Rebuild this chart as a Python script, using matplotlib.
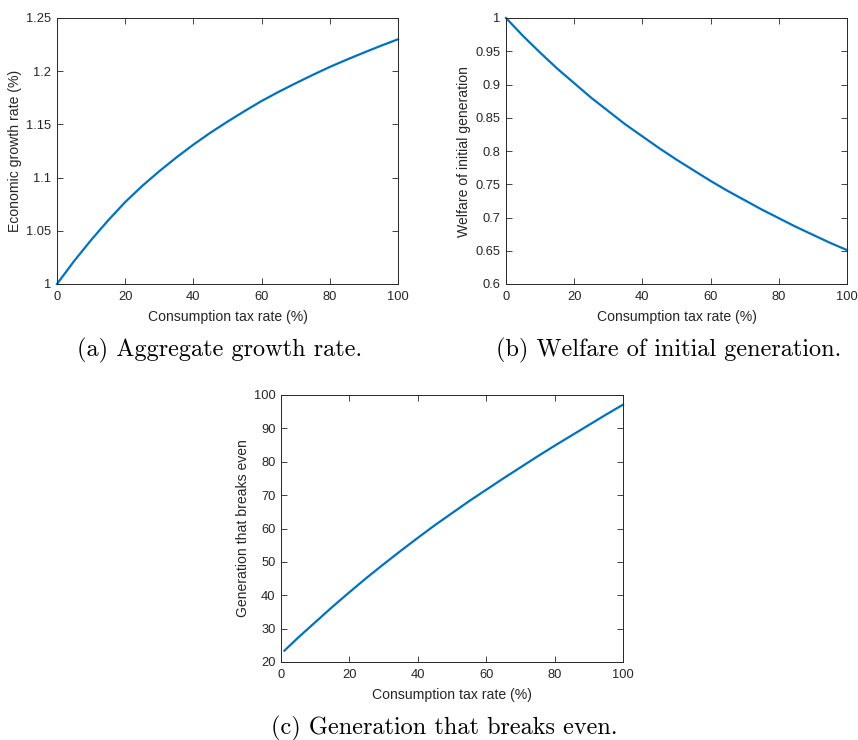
# Consumption tax experiments: growth, welfare of initial generation,
# and the generation that breaks even (three panels, MATLAB look).
import matplotlib
matplotlib.use('Agg')
import matplotlib.pyplot as plt

tax_rate = [0, 5, 10, 15, 20, 25, 30, 35, 40, 45, 50,
            55, 60, 65, 70, 75, 80, 85, 90, 95, 100]
growth = [1.0000, 1.0215, 1.0413, 1.0598, 1.0770, 1.0922, 1.1060, 1.1189, 1.1310, 1.1422,
          1.1526, 1.1625, 1.1720, 1.1806, 1.1887, 1.1965, 1.2040, 1.2109, 1.2175, 1.2239,
          1.2300]
welfare = [1.000, 0.973, 0.948, 0.924, 0.902, 0.880, 0.860, 0.840, 0.822, 0.804, 0.787,
           0.771, 0.755, 0.740, 0.726, 0.712, 0.699, 0.686, 0.674, 0.662, 0.651]
tax_rate_c = [1, 5, 10, 15, 20, 25, 30, 35, 40, 45, 50,
              55, 60, 65, 70, 75, 80, 85, 90, 95, 100]
breakeven = [23.4, 27.3, 31.9, 36.5, 40.9, 45.2, 49.3, 53.3, 57.2, 61.0, 64.6,
             68.2, 71.6, 75.0, 78.3, 81.6, 84.8, 87.9, 91.0, 94.1, 97.1]

xticks = [0, 20, 40, 60, 80, 100]
yticks_a = [1, 1.05, 1.1, 1.15, 1.2, 1.25]
yticks_b = [0.6, 0.65, 0.7, 0.75, 0.8, 0.85, 0.9, 0.95, 1]
yticks_c = [20, 30, 40, 50, 60, 70, 80, 90, 100]

W, H = 858, 740
fig = plt.figure(figsize=(W / 100, H / 100), dpi=100)

blue = '#0072BD'
dark = '#262626'
sans = ['Liberation Sans', 'DejaVu Sans']


def panel(rect_px, x, y, yticks, ylabel, caption, ylim):
    l, t, r, b = rect_px
    ax = fig.add_axes([l / W, 1 - b / H, (r - l) / W, (b - t) / H])
    ax.plot(x, y, color=blue, lw=1.6, clip_on=False)
    ax.set_xlim(0, 100)
    ax.set_ylim(*ylim)
    ax.set_xticks(xticks)
    ax.set_xticklabels(['%g' % v for v in xticks], family=sans, size=9.3, color=dark)
    ax.set_yticks(yticks)
    ax.set_yticklabels(['%g' % v for v in yticks], family=sans, size=9.3, color=dark)
    ax.tick_params(direction='in', top=True, right=True, length=4, width=0.6,
                   color=dark)
    ax.tick_params(axis='x', pad=5)
    ax.tick_params(axis='y', pad=4)
    for s in ax.spines.values():
        s.set_linewidth(0.7)
        s.set_color(dark)
    ax.set_xlabel('Consumption tax rate (%)', family=sans, size=10.1,
                  color=dark, labelpad=5)
    ax.set_ylabel(ylabel, family=sans, size=10.1, color=dark, labelpad=3)
    ax.text(0.476, -0.25, caption, transform=ax.transAxes, ha='center', va='center',
            family='cmr10', size=17.5)
    return ax


panel((57, 18, 398, 284), tax_rate, growth, yticks_a,
      'Economic growth rate (%)', '(a) Aggregate growth rate.', (1, 1.25))
panel((506, 18, 847, 284), tax_rate, welfare, yticks_b,
      'Welfare of initial generation', '(b) Welfare of initial generation.', (0.6, 1))
panel((281, 395, 623, 662), tax_rate_c, breakeven, yticks_c,
      'Generation that breaks even', '(c) Generation that breaks even.', (20, 100))

fig.savefig('out.png', dpi=100)
